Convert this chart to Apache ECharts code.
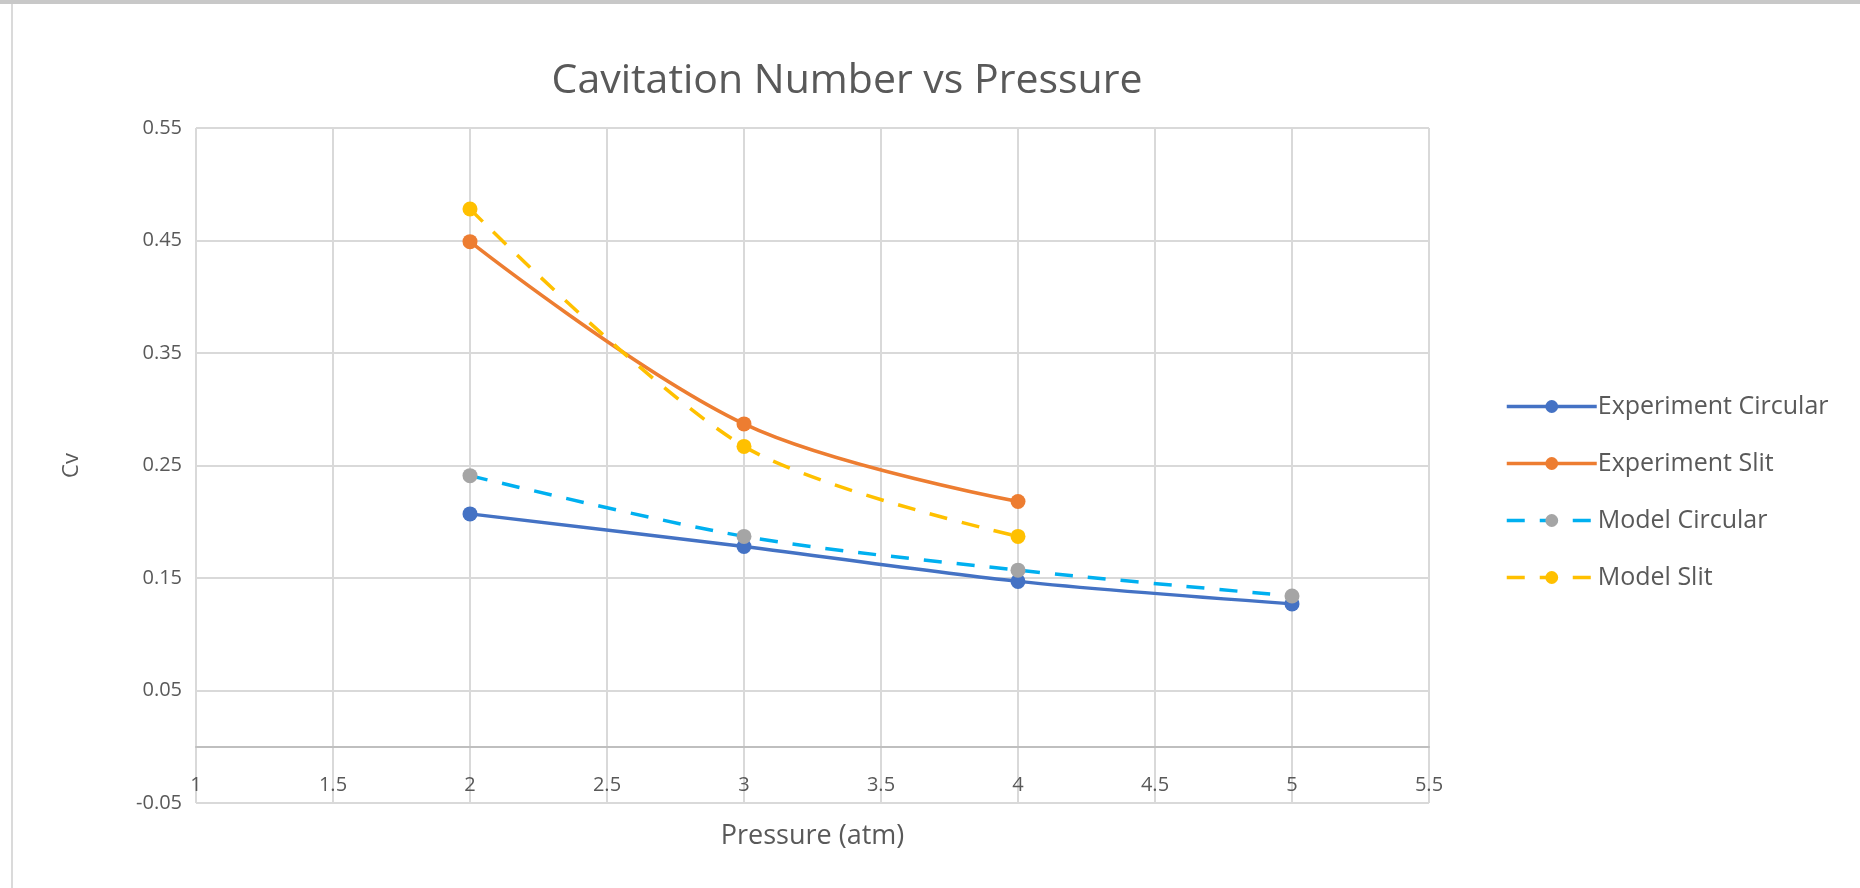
<!DOCTYPE html>
<html>
<head>
<meta charset="utf-8">
<script src="https://cdn.jsdelivr.net/npm/echarts@6/dist/echarts.min.js"></script>
<style>
  html, body { margin: 0; padding: 0; background: #fff; }
  #chart { width: 1860px; height: 888px; }
</style>
</head>
<body>
<div id="chart"></div>
<script>
// pressure values (atm)
var pressure = [2, 3, 4, 5];
// Cv values
var expCircular = [0.207, 0.178, 0.147, 0.127];
var expSlit = [0.449, 0.287, 0.218];
var modelCircular = [0.241, 0.187, 0.157, 0.134];
var modelSlit = [0.478, 0.267, 0.187];
var seriesNames = ['Experiment Circular', 'Experiment Slit', 'Model Circular', 'Model Slit'];

function pairs(ys) {
    var out = [];
    for (var i = 0; i < ys.length; i++) {
        out.push([pressure[i], ys[i]]);
    }
    return out;
}

var labelColor = '#595959';
var font = 'Open Sans';

var chart = echarts.init(document.getElementById('chart'));

var option = {
    backgroundColor: '#fff',
    animation: false,
    textStyle: { fontFamily: font },
    title: {
        text: 'Cavitation Number vs Pressure',
        left: 842,
        textAlign: 'center',
        top: 56,
        textStyle: { fontFamily: font, fontSize: 41, fontWeight: 'normal', color: labelColor }
    },
    grid: { left: 196, right: 431, top: 128, bottom: 85, containLabel: false, outerBoundsMode: 'none' },
    legend: {
        orient: 'vertical',
        left: 1500,
        top: 389,
        itemWidth: 90,
        itemHeight: 16,
        itemGap: 32,
        data: seriesNames,
        lineStyle: { width: 3.5 },
        textStyle: { fontFamily: font, fontSize: 25, color: labelColor, lineHeight: 25, padding: [0, 0, 0, -4] }
    },
    xAxis: {
        type: 'value',
        min: 1,
        max: 5.5,
        interval: 0.5,
        name: 'Pressure (atm)',
        nameLocation: 'middle',
        nameGap: 20,
        nameTextStyle: { fontFamily: font, fontSize: 27, color: labelColor },
        axisLine: { onZero: true, lineStyle: { color: '#bfbfbf', width: 2 } },
        axisTick: { show: false },
        axisLabel: { margin: -28, fontSize: 20, color: labelColor, fontFamily: font },
        splitLine: { show: true, lineStyle: { color: '#d9d9d9', width: 2 } }
    },
    yAxis: {
        type: 'value',
        min: -0.05,
        max: 0.55,
        interval: 0.1,
        name: 'Cv',
        nameLocation: 'middle',
        nameRotate: 90,
        nameGap: 113,
        nameTextStyle: { fontFamily: font, fontSize: 22, color: labelColor },
        axisLine: { show: false },
        axisTick: { show: false },
        axisLabel: {
            margin: 14, fontSize: 20, color: labelColor, fontFamily: font,
            formatter: function (v) { return v.toFixed(2); }
        },
        splitLine: { show: true, lineStyle: { color: '#d9d9d9', width: 2 } }
    },
    graphic: [
        { type: 'rect', shape: { x: 0, y: 0, width: 1860, height: 4 }, style: { fill: '#c8c8c8' } },
        { type: 'rect', shape: { x: 11, y: 4, width: 2, height: 884 }, style: { fill: '#dadada' } }
    ],
    series: [
        {
            name: seriesNames[0], type: 'line', smooth: 0.3,
            data: pairs(expCircular),
            symbol: 'circle', symbolSize: 15,
            lineStyle: { color: '#4472c4', width: 3.5 },
            itemStyle: { color: '#4472c4' },
            z: 2
        },
        {
            name: seriesNames[1], type: 'line', smooth: 0.35,
            data: pairs(expSlit),
            symbol: 'circle', symbolSize: 15,
            lineStyle: { color: '#ed7d31', width: 3.5 },
            itemStyle: { color: '#ed7d31' },
            z: 2
        },
        {
            name: seriesNames[2], type: 'line', smooth: 0.3,
            data: pairs(modelCircular),
            symbol: 'circle', symbolSize: 15,
            lineStyle: { color: '#00b0f0', width: 3.5, type: [18, 15] },
            itemStyle: { color: '#a5a5a5' },
            z: 3
        },
        {
            name: seriesNames[3], type: 'line', smooth: 0.3,
            data: pairs(modelSlit),
            symbol: 'circle', symbolSize: 15,
            lineStyle: { color: '#ffc000', width: 3.5, type: [18, 15] },
            itemStyle: { color: '#ffc000' },
            z: 3
        }
    ]
};

chart.setOption(option);
</script>
</body>
</html>
